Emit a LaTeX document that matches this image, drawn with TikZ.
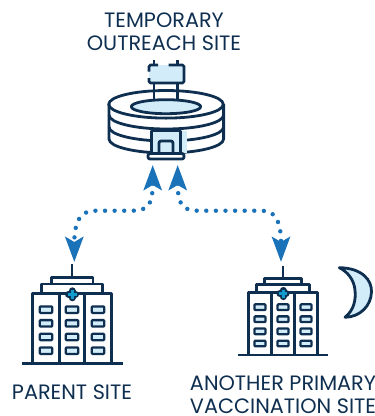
\documentclass[tikz,border=0pt]{standalone}
\usepackage{fontspec}
\setmainfont{Poppins}
\usetikzlibrary{arrows.meta}
\definecolor{navy}{HTML}{0F2F50}
\definecolor{pale}{HTML}{D2ECF9}
\definecolor{linkblue}{HTML}{1A72B9}
\tikzset{
  site/.style={align=center,text=navy,font=\fontsize{20.8}{23}\selectfont,inner sep=0pt},
  ink/.style={draw=navy,line width=2.8pt,line join=round},
  link/.style={linkblue,line width=4.4pt,line cap=round,dash pattern=on 0pt off 9.6pt,
    {Stealth[inset=5pt,length=25pt,width=18pt]}-{Stealth[inset=5pt,length=25pt,width=18pt]}},
  hospital/.pic={
    \draw[ink] (-50.5,0) -- (50.5,0);
    \draw[ink] (-39.2,0) -- (-39.2,-70.4) -- (39.2,-70.4) -- (39.2,0);
    \draw[ink] (-12.7,0) -- (-12.7,-70.4) (12.7,0) -- (12.7,-70.4);
    \draw[ink] (-30.3,-70.4) -- (-30.3,-79.7) -- (30.3,-79.7) -- (30.3,-70.4);
    \draw[ink] (-20.9,-79.7) -- (-20.9,-86) -- (20.9,-86) -- (20.9,-79.7);
    \draw[ink] (0,-86) -- (0,-100);
    \foreach \xa in {-26,0,26}
      \foreach \ya in {-54,-40.4,-26.7,-13}
        \draw[ink,line width=2.3pt,fill=pale,rounded corners=.8pt] (\xa-6.2,\ya-3.2) rectangle (\xa+6.2,\ya+3.2);
    \draw[navy,line width=7pt,line cap=round] (-3.5,-69.4) -- (3.5,-69.4) (0,-72.9) -- (0,-65.9);
    \draw[linkblue!70!cyan,line width=3pt] (-4.5,-69.4) -- (4.5,-69.4) (0,-73.9) -- (0,-64.9);
  }
}
\begin{document}
\begin{tikzpicture}[x=1pt,y=-1pt]
\useasboundingbox (0,0) rectangle (375,416);

\node[site] (outreach) at (164,32) {TEMPORARY\\OUTREACH SITE};
\node[site] (parent) at (72,392) {PARENT SITE};
\node[site] (another) at (283,394.5) {ANOTHER PRIMARY\\VACCINATION SITE};

% sign
\draw[ink] (154,60) -- (154,66) (177.7,60) -- (177.7,66) (154,83) -- (154,104) (177.7,83) -- (177.7,104);
\fill[pale] (149,65) rectangle (184,83);
\draw[ink,rounded corners=1.5pt] (149,71.5) -- (149,65) -- (158,65) (168.5,65) -- (184,65) -- (184,83) -- (149,83) -- (149,78);

% stadium
\draw[ink] (109,104) -- (109,139) arc[start angle=180,end angle=0,x radius=57.3,y radius=14] -- (223.6,104);
\foreach \ya in {115,127}
  \draw[ink] (109,\ya) arc[start angle=180,end angle=0,x radius=57.3,y radius=14];
\draw[ink] (166,104.3) ellipse [x radius=57.3,y radius=13.8];
\draw[ink,fill=pale] (166,106.7) ellipse [x radius=34.7,y radius=7];

% gate
\fill[pale] (152,131) rectangle (187,153);
\draw[ink,fill=pale] (151.7,154) -- (151.7,131) -- (180.7,131) -- (180.7,154);
\draw[ink,fill=pale,rounded corners=2pt] (159,153) -- (159,141) -- (173,141) -- (173,153);
\draw[ink,fill=white,rounded corners=2pt] (148,153.5) rectangle (184,159);

% buildings
\pic at (72,363.7) {hospital};
\pic[scale=.886] at (283,355) {hospital};

% moon
\draw[ink,fill=pale] (339.3,267.7) .. controls (362,268) and (372,280) .. (371.5,292) .. controls (371,306) and (360,317) .. (345,317.3) .. controls (354,310) and (356,300) .. (355,290) .. controls (354,280) and (348,272) .. (339.3,267.7) -- cycle;

% links
\coordinate (outreachleft) at (152.7,165);
\coordinate (outreachright) at (177.7,165);
\coordinate (parenttop) at (74.3,262);
\coordinate (anothertop) at (281,262);
\draw[link] (outreachleft) .. controls (152.7,205) and (148,210.7) .. (132,210.7) -- (95,210.7) .. controls (80,210.7) and (74.3,222) .. (parenttop);
\draw[link] (outreachright) .. controls (177.7,205) and (183,210.7) .. (198,210.7) -- (262,210.7) .. controls (276,210.7) and (281,222) .. (anothertop);
\end{tikzpicture}
\end{document}
